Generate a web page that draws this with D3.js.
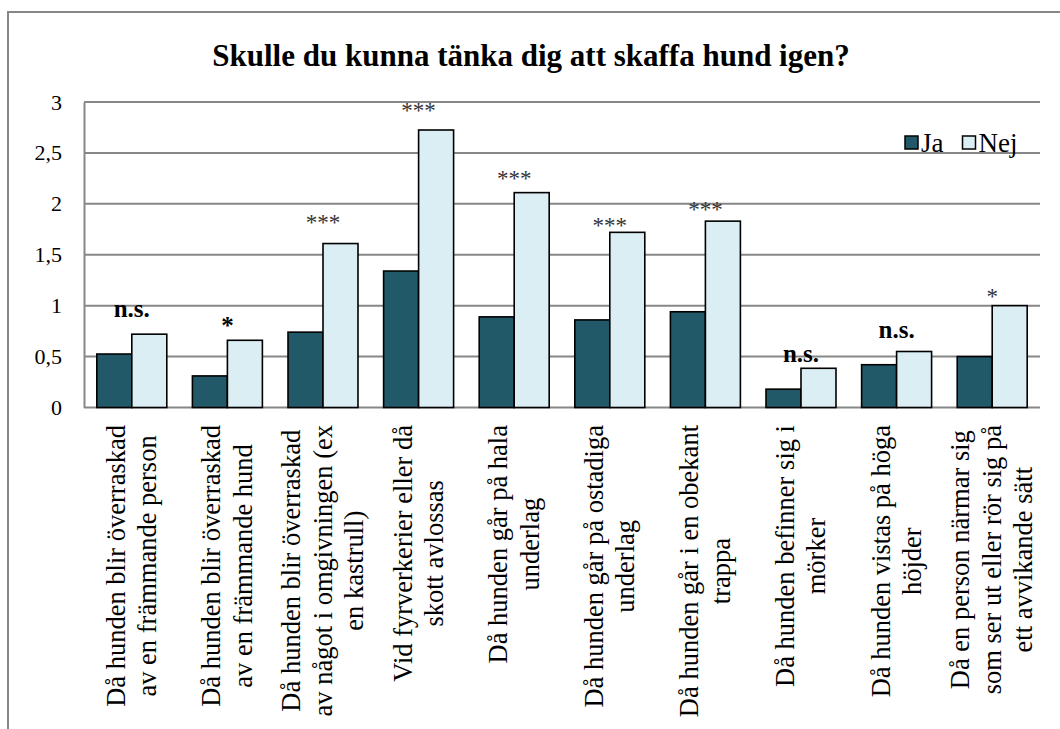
<!DOCTYPE html>
<meta charset="utf-8">
<style>
  body { margin: 0; background: #fff; }
</style>

<div id="chart"></div>

<script src="https://cdn.jsdelivr.net/npm/d3@7"></script>
<script>

// data
var categories = [
  ["Då hunden blir överraskad", "av en främmande person"],
  ["Då hunden blir överraskad", "av en främmande hund"],
  ["Då hunden blir överraskad", "av något i omgivningen (ex", "en kastrull)"],
  ["Vid fyrverkerier eller då", "skott avlossas"],
  ["Då hunden går på hala", "underlag"],
  ["Då hunden går på ostadiga", "underlag"],
  ["Då hunden går i en obekant", "trappa"],
  ["Då hunden befinner sig i", "mörker"],
  ["Då hunden vistas på höga", "höjder"],
  ["Då en person närmar sig", "som ser ut eller rör sig på", "ett avvikande sätt"]
];
var series = ["Ja", "Nej"];
var ja  = [0.525, 0.31, 0.74, 1.34, 0.89, 0.86, 0.94, 0.18, 0.42, 0.50];
var nej = [0.72, 0.66, 1.61, 2.725, 2.11, 1.72, 1.83, 0.385, 0.55, 1.0];
var sigLabels = ["n.s.", "*", "***", "***", "***", "***", "***", "n.s.", "n.s.", "*"];
var sigBold   = [true, true, false, false, false, false, false, true, true, false];
var sigY      = [0.89, 0.72, 1.74, 2.84, 2.18, 1.71, 1.875, 0.45, 0.68, 1.02]; // value-axis anchor of each label
var yTicks = [0, 0.5, 1, 1.5, 2, 2.5, 3];
var title = "Skulle du kunna tänka dig att skaffa hund igen?";

var colors = { Ja: "#215968", Nej: "#DAEEF3" };
var gridColor = "#878787";
var serif = "'Liberation Serif'";

var W = 1060, H = 729;
var plot = { left: 84, right: 1040, top: 102, bottom: 407.5 };

var svg = d3.select("#chart")
  .append("svg")
    .attr("width", W)
    .attr("height", H);

// outer chart frame (only top and left edges are visible)
svg.append("path")
  .attr("d", "M8," + H + " L8,12 L" + W + ",12")
  .attr("fill", "none")
  .attr("stroke", gridColor)
  .attr("stroke-width", 2);

svg.append("text")
  .attr("x", 531)
  .attr("y", 66)
  .attr("text-anchor", "middle")
  .style("font-family", serif)
  .style("font-size", "31px")
  .style("font-weight", "bold")
  .text(title);

var x = d3.scaleBand()
  .domain(d3.range(categories.length))
  .range([plot.left, plot.right]);

var xs = d3.scaleBand()
  .domain(series)
  .range([0, x.bandwidth()])
  .paddingOuter(0.366);

var y = d3.scaleLinear()
  .domain([0, 3])
  .range([plot.bottom, plot.top]);

// gridlines
svg.append("g")
  .selectAll("line")
  .data(yTicks)
  .enter()
  .append("line")
    .attr("x1", plot.left)
    .attr("x2", plot.right)
    .attr("y1", function(d) { return y(d); })
    .attr("y2", function(d) { return y(d); })
    .attr("stroke", gridColor)
    .attr("stroke-width", 2);

// y axis
var yAxis = svg.append("g")
  .attr("transform", "translate(" + plot.left + ",0)")
  .call(d3.axisLeft(y).tickValues(yTicks).tickSize(0).tickPadding(22)
    .tickFormat(function(d) { return String(d).replace(".", ","); }));
yAxis.select(".domain").attr("stroke", gridColor).attr("stroke-width", 2);
yAxis.selectAll("text")
  .attr("fill", "#000")
  .style("font-family", serif)
  .style("font-size", "22px");

// bars
var rows = categories.map(function(c, i) { return { i: i, Ja: ja[i], Nej: nej[i] }; });

var groups = svg.append("g")
  .selectAll("g")
  .data(rows)
  .enter()
  .append("g")
    .attr("transform", function(d) { return "translate(" + x(d.i) + ",0)"; });

groups.selectAll("rect")
  .data(function(d) { return series.map(function(s) { return { key: s, value: d[s] }; }); })
  .enter()
  .append("rect")
    .attr("x", function(d) { return xs(d.key); })
    .attr("width", xs.bandwidth())
    .attr("y", function(d) { return y(d.value); })
    .attr("height", function(d) { return y(0) - y(d.value); })
    .attr("fill", function(d) { return colors[d.key]; })
    .attr("stroke", "#000")
    .attr("stroke-width", 1.6);

// significance labels
svg.append("g")
  .selectAll("text")
  .data(sigLabels)
  .enter()
  .append("text")
    .attr("x", function(d, i) { return x(i) + x.bandwidth() / 2; })
    .attr("y", function(d, i) { return y(sigY[i]); })
    .attr("text-anchor", "middle")
    .attr("fill", function(d, i) { return sigBold[i] ? "#000" : "#333"; })
    .style("font-family", serif)
    .style("font-size", function(d, i) { return sigBold[i] ? "25px" : "23px"; })
    .style("font-weight", function(d, i) { return sigBold[i] ? "bold" : "normal"; })
    .text(function(d) { return d; });

// category labels, rotated, lines centred on the longest one
var labelTop = 425, lineH = 31.5, labelSize = 26.5;
categories.forEach(function(lines, i) {
  var g = svg.append("g")
    .attr("transform", "translate(" + (x(i) + x.bandwidth() / 2) + "," + labelTop + ") rotate(-90)");
  var t = g.append("text")
    .attr("text-anchor", "middle")
    .style("font-family", serif)
    .style("font-size", labelSize + "px");
  var spans = t.selectAll("tspan")
    .data(lines)
    .enter()
    .append("tspan")
      .attr("x", 0)
      .attr("y", function(d, j) { return (j - (lines.length - 1) / 2) * lineH + labelSize * 0.33; })
      .text(function(d) { return d; });
  var maxLen = 0;
  spans.each(function() { maxLen = Math.max(maxLen, this.getComputedTextLength()); });
  spans.attr("x", -maxLen / 2);
});

// legend
var legend = svg.append("g").attr("transform", "translate(905,136)");
var lx = 0;
series.forEach(function(s) {
  legend.append("rect")
    .attr("x", lx)
    .attr("y", 0)
    .attr("width", 13)
    .attr("height", 13)
    .attr("fill", colors[s])
    .attr("stroke", "#000")
    .attr("stroke-width", 1.5);
  var t = legend.append("text")
    .attr("x", lx + 16)
    .attr("y", 16)
    .style("font-family", serif)
    .style("font-size", "27px")
    .text(s);
  lx += 16 + t.node().getComputedTextLength() + 19;
});

</script>
